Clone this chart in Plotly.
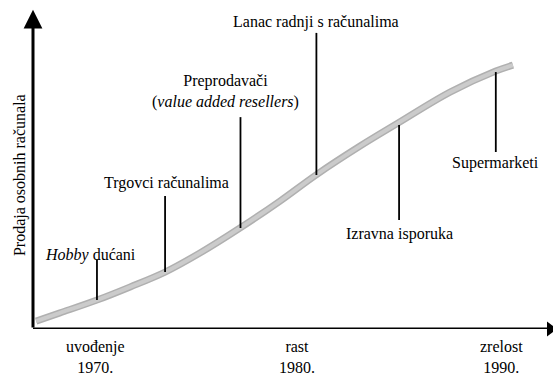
import plotly.graph_objects as go

# S-curve of personal computer sales (time 0-100, sales 0-100)
curve_t = [0.6, 5.2, 12.3, 18.7, 25.4, 32.1, 39.8, 47.5, 54.4, 62.9, 70.2, 80.2, 89.0, 92.3]
curve_sales = [2.4, 4.9, 8.8, 12.8, 17.3, 23.1, 30.7, 38.9, 46.8, 55.6, 62.6, 72.0, 78.4, 80.2]

# sales channels: where each leader line meets the curve and where it ends
channels = ["<i>Hobby</i> dućani", "Trgovci računalima",
            "Preprodavači<br>(<i>value added resellers</i>)",
            "Lanac radnji s računalima", "Izravna isporuka", "Supermarketi"]
channel_t = [12.3, 25.4, 39.9, 54.5, 70.4, 89.0]
channel_on_curve = [8.8, 17.3, 30.7, 46.8, 62.0, 78.1]
channel_line_end = [21.0, 40.4, 64.4, 90.0, 33.1, 53.8]

# life-cycle stages under the time axis
stages = ["uvođenje", "rast", "zrelost"]
stage_years = ["1970.", "1980.", "1990."]
stage_t = [12.1, 50.8, 90.0]

font = dict(family="Liberation Serif, Times New Roman, serif", size=16, color="black")

fig = go.Figure()

# the curve, darker edges with a lighter middle
fig.add_trace(go.Scatter(x=curve_t, y=curve_sales, mode="lines",
                         line=dict(color="#b0b0b0", width=7, shape="spline"),
                         hoverinfo="skip"))
fig.add_trace(go.Scatter(x=curve_t, y=curve_sales, mode="lines",
                         line=dict(color="#cbcbcb", width=4, shape="spline"),
                         hoverinfo="skip"))

# leader lines
lx, ly = [], []
for t, a, b in zip(channel_t, channel_on_curve, channel_line_end):
    lx += [t, t, None]
    ly += [a, b, None]
fig.add_trace(go.Scatter(x=lx, y=ly, mode="lines",
                         line=dict(color="black", width=1.8), hoverinfo="skip"))

# label offsets in pixels from the free end of each leader line
label_shift = [(-6, 5), (1, 13), (-15, 26), (0, 11), (0, -14), (0, -11)]
for name, t, end, (dx, dy) in zip(channels, channel_t, channel_line_end, label_shift):
    fig.add_annotation(x=t, y=end, text=name, showarrow=False, font=font,
                       xshift=dx, yshift=dy, xanchor="center", yanchor="middle")

for s, yr, t in zip(stages, stage_years, stage_t):
    fig.add_annotation(x=t, y=0, xref="x", yref="paper", text=f"{s}<br>{yr}",
                       showarrow=False, font=font, xanchor="center",
                       yanchor="middle", yshift=-28)

fig.add_annotation(x=0, y=46.8, xref="paper", yref="y", text="Prodaja osobnih računala",
                   textangle=-90, showarrow=False, font=font,
                   xanchor="center", yanchor="middle", xshift=-13)

# sales axis with arrowhead
fig.add_annotation(x=0, y=97, ax=0, ay=0, axref="x", ayref="y", text="",
                   showarrow=True, arrowhead=2, arrowsize=1.25, arrowwidth=3,
                   arrowcolor="black")
# time axis runs off the right edge, arrowhead partly cut
fig.add_shape(type="line", xref="paper", yref="y", x0=0, x1=1.05, y0=0, y1=0,
              line=dict(color="black", width=3))
fig.add_trace(go.Scatter(x=[99.47], y=[0], mode="markers", cliponaxis=False,
                         marker=dict(symbol="triangle-right", size=13, color="black"),
                         hoverinfo="skip"))

fig.update_layout(
    width=553, height=375,
    margin=dict(l=33, r=0, t=0, b=46),
    plot_bgcolor="white", paper_bgcolor="white",
    showlegend=False,
    xaxis=dict(range=[0, 100], visible=False),
    yaxis=dict(range=[0, 100], visible=False),
)

fig.write_html("out.html", config={"displayModeBar": False},
               post_script="document.body.style.margin='0';")
